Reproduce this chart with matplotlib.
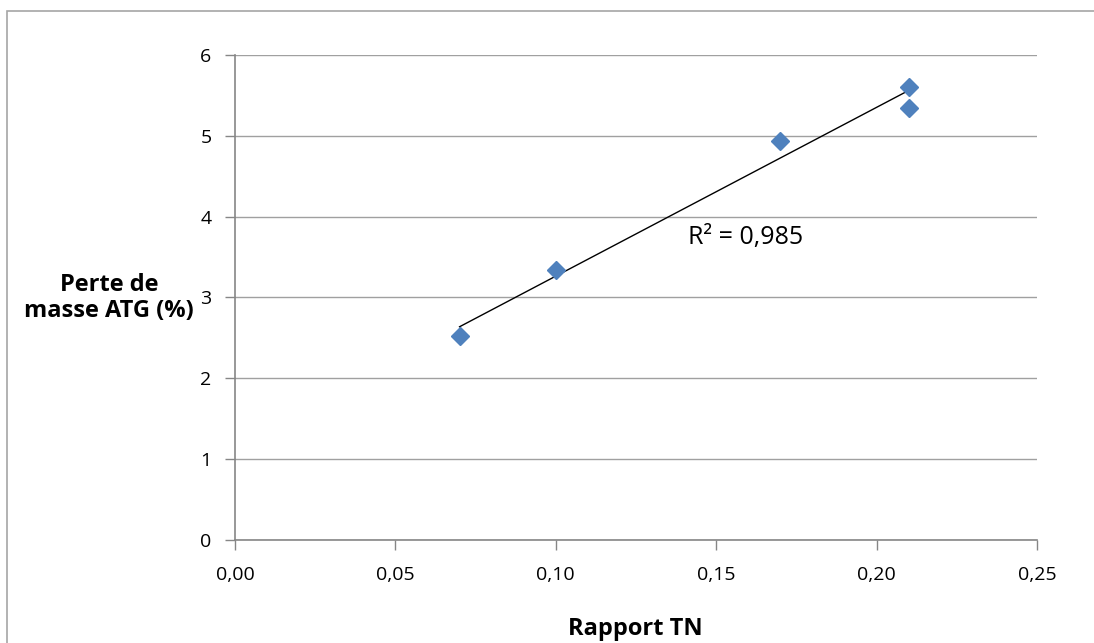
""" Perte de masse ATG en fonction du rapport TN

Scatter with linear trendline, Excel-like style
"""

import numpy as np
from matplotlib import pyplot as plt
from matplotlib.patches import Rectangle

# data
rapport_tn = [0.07, 0.10, 0.17, 0.21, 0.21]
perte_masse = [2.52, 3.34, 4.93, 5.61, 5.35]

x_ticks = [0.00, 0.05, 0.10, 0.15, 0.20, 0.25]
x_tick_labels = ['0,00', '0,05', '0,10', '0,15', '0,20', '0,25']
y_ticks = [0, 1, 2, 3, 4, 5, 6]
r2_label = 'R² = 0,985'

plt.rc('font', family=['Open Sans', 'DejaVu Sans'])

fig = plt.figure(figsize=(10.94, 6.43), dpi=100)
ax = fig.add_axes([0.2148, 0.1602, 0.7331, 0.7543])

# outer chart border
fig.patches.append(Rectangle((0.0064, -0.05), 1.2, 0.983 + 0.05,
                             transform=fig.transFigure, fill=False,
                             edgecolor='#a6a6a6', linewidth=1.2))

# linear trendline over the data range
x = np.array(rapport_tn)
y = np.array(perte_masse)
a, b = np.polyfit(x, y, 1)
xs = np.array([x.min(), x.max()])
ax.plot(xs, a * xs + b, color='black', linewidth=1.0, zorder=2)

ax.plot(rapport_tn, perte_masse, linestyle='none', marker='D',
        markersize=9, color='#4f81bd', zorder=3)

ax.text(0.1412, 3.74, r2_label, fontsize=18, va='center', ha='left')

ax.set_xlim(0, 0.25)
ax.set_ylim(0, 6)
ax.set_xticks(x_ticks)
ax.set_xticklabels(x_tick_labels)
ax.set_yticks(y_ticks)

ax.grid(axis='y', color='#a0a0a0', linewidth=1.0)
ax.set_axisbelow(True)
for side in ['top', 'right']:
    ax.spines[side].set_visible(False)
for side in ['left', 'bottom']:
    ax.spines[side].set_color('#868686')
    ax.spines[side].set_linewidth(1.2)

ax.tick_params(axis='both', colors='#868686', labelcolor='black',
               labelsize=14, length=7, width=1.0, direction='out')
ax.tick_params(axis='x', pad=12)
ax.tick_params(axis='y', pad=10)

fig.text(194 / 1094, 1 - 298 / 643, 'Perte de\nmasse ATG (%)',
         fontsize=17, fontweight='bold', ha='right', va='center',
         multialignment='center', linespacing=1.15)
fig.text(635 / 1094, 1 - 629 / 643, 'Rapport TN', fontsize=17,
         fontweight='bold', ha='center', va='center')

fig.savefig('out.png', dpi=100)
